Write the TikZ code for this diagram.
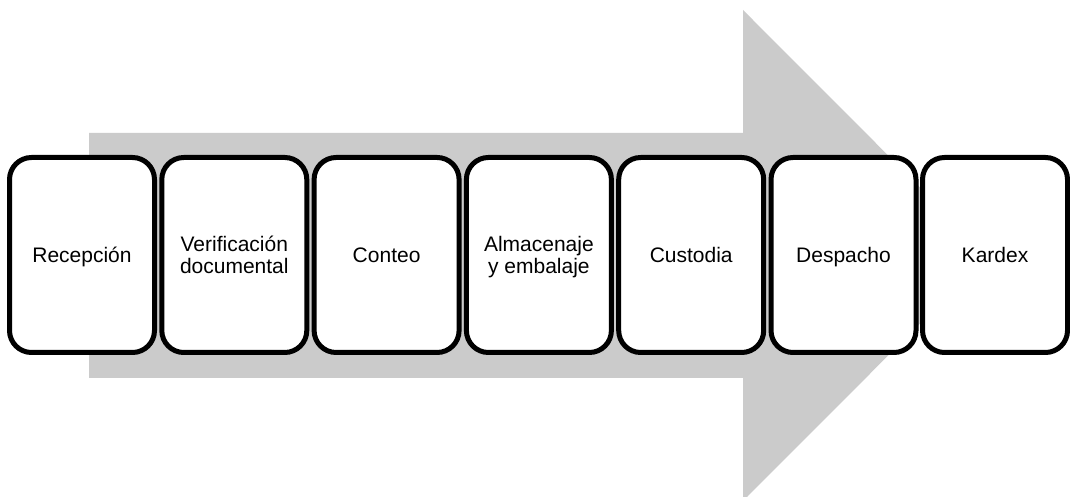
\documentclass[tikz,border=0pt]{standalone}
\usepackage{fontspec}
\setmainfont{Liberation Sans}
\definecolor{arrowgray}{HTML}{CBCBCB}
\begin{document}
\begin{tikzpicture}[x=1pt,y=1pt,
  stepbox/.style={draw=black, line width=5pt, fill=white, rounded corners=22pt,
    minimum width=145pt, minimum height=195pt, align=center, inner sep=2pt,
    text height=15pt, text depth=0pt,
    font=\fontsize{21pt}{22pt}\selectfont},
  twoline/.style={text height=37pt, text depth=0pt}]
\useasboundingbox (0,0) rectangle (1070,497);
\fill[arrowgray] (89,364) -- (743,364) -- (743,487) -- (988,241.5) -- (743,-4) -- (743,119) -- (89,119) -- cycle;
\node[stepbox] (a) at (82,242) {Recepción};
\node[stepbox,twoline] (b) at (234.3,242) {Verificación\\documental};
\node[stepbox] (c) at (386.6,242) {Conteo};
\node[stepbox,twoline] (d) at (538.9,242) {Almacenaje\\y embalaje};
\node[stepbox] (e) at (691.2,242) {Custodia};
\node[stepbox] (f) at (843.5,242) {Despacho};
\node[stepbox] (g) at (995,242) {Kardex};
\end{tikzpicture}
\end{document}
